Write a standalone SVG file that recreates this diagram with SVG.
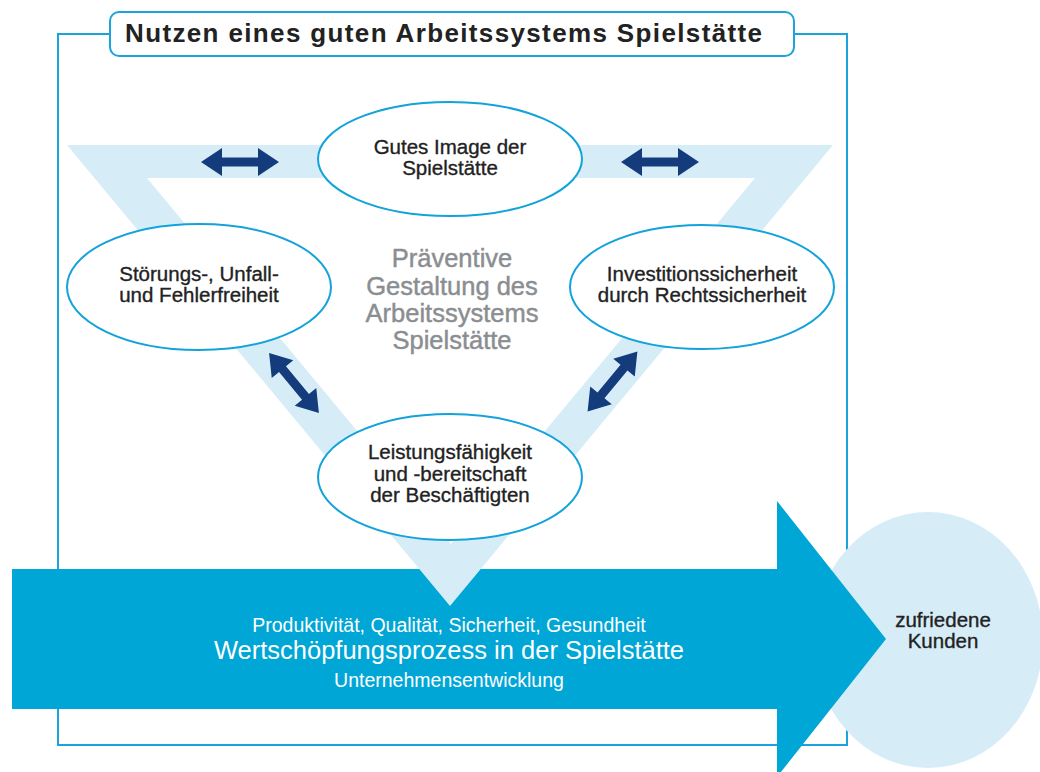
<svg xmlns="http://www.w3.org/2000/svg" width="1040" height="772" viewBox="0 0 1040 772">
  <defs>
    <style>
      .frame { fill: none; stroke: #1aa3dc; stroke-width: 2; }
      .band { fill: #d6edf8; }
      .node { fill: #ffffff; stroke: #12a3da; stroke-width: 2; }
      .dark { font-family: "Liberation Sans", Arial, sans-serif; font-size: 20.5px; fill: #222222; stroke: #222222; stroke-width: 0.35px; text-anchor: middle; }
      .grey { font-family: "Liberation Sans", Arial, sans-serif; font-size: 25.5px; fill: #8b8e91; stroke: #8b8e91; stroke-width: 0.45px; text-anchor: middle; }
      .white { font-family: "Liberation Sans", Arial, sans-serif; fill: #ffffff; text-anchor: middle; }
      .dbl { fill: #143c7c; }
    </style>
    <polygon id="dblArrow" points="-39,0 -18,-14 -18,-4.5 18,-4.5 18,-14 39,0 18,14 18,4.5 -18,4.5 -18,14"/>
  </defs>

  <rect width="1040" height="772" fill="#ffffff"/>

  <!-- outer frame -->
  <rect id="frame" class="frame" x="58" y="34" width="789" height="711"/>

  <!-- customers circle -->
  <g id="kunden">
    <ellipse cx="928" cy="640" rx="115" ry="128" fill="#d6edf8"/>
    <text class="dark" x="943" y="627" font-size="19">zufriedene</text>
    <text class="dark" x="943" y="648" font-size="19">Kunden</text>
  </g>

  <!-- big process arrow -->
  <g id="prozess">
    <polygon points="12,569 777,569 777,501 886,639 777,777 777,709 12,709" fill="#00a6d6"/>
  </g>

  <!-- triangle band -->
  <path id="dreieck" class="band" fill-rule="evenodd" d="M67,145 L833,145 L450,606 Z M147,178 L451,544 L755,178 Z"/>

  <g id="prozess-text">
    <text class="white" x="449" y="632" font-size="19.5">Produktivität, Qualität, Sicherheit, Gesundheit</text>
    <text class="white" x="449" y="659" font-size="25.5">Wertschöpfungsprozess in der Spielstätte</text>
    <text class="white" x="449" y="687" font-size="19.5">Unternehmensentwicklung</text>
  </g>

  <!-- connectors -->
  <g id="connectors" class="dbl">
    <use href="#dblArrow" transform="translate(240,162)"/>
    <use href="#dblArrow" transform="translate(660,162)"/>
    <use href="#dblArrow" transform="translate(294,383) rotate(50.3)"/>
    <use href="#dblArrow" transform="translate(612.5,381.5) rotate(-50.3)"/>
  </g>

  <!-- nodes -->
  <g id="image">
    <ellipse class="node" cx="450" cy="159" rx="132" ry="57"/>
    <text class="dark" x="450" y="154">Gutes Image der</text>
    <text class="dark" x="450" y="175">Spielstätte</text>
  </g>
  <g id="stoerung">
    <ellipse class="node" cx="199" cy="287" rx="132" ry="63"/>
    <text class="dark" x="199" y="281">Störungs-, Unfall-</text>
    <text class="dark" x="199" y="302">und Fehlerfreiheit</text>
  </g>
  <g id="invest">
    <ellipse class="node" cx="702" cy="287" rx="132" ry="62"/>
    <text class="dark" x="702" y="281">Investitionssicherheit</text>
    <text class="dark" x="702" y="302">durch Rechtssicherheit</text>
  </g>
  <g id="leistung">
    <ellipse class="node" cx="450" cy="477" rx="132" ry="63"/>
    <text class="dark" x="450" y="459">Leistungsfähigkeit</text>
    <text class="dark" x="450" y="481">und -bereitschaft</text>
    <text class="dark" x="450" y="502">der Beschäftigten</text>
  </g>

  <g id="praevention">
    <text class="grey" x="452" y="267">Präventive</text>
    <text class="grey" x="452" y="295">Gestaltung des</text>
    <text class="grey" x="452" y="322">Arbeitssystems</text>
    <text class="grey" x="452" y="349">Spielstätte</text>
  </g>

  <!-- title -->
  <g id="titel">
    <rect x="110" y="12" width="684" height="44" rx="9" fill="#ffffff" stroke="#1aa3dc" stroke-width="2"/>
    <text x="125" y="42" font-family="Liberation Sans, Arial, sans-serif" font-size="26" font-weight="bold" fill="#222222" textLength="637" lengthAdjust="spacing">Nutzen eines guten Arbeitssystems Spielstätte</text>
  </g>
</svg>
